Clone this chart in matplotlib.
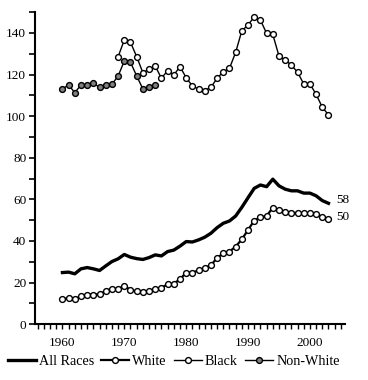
import numpy as np
import matplotlib.pyplot as plt
from matplotlib.ticker import MultipleLocator

plt.rcParams['font.family'] = ['Liberation Serif', 'DejaVu Serif']

# Datos
anios = list(range(1960, 2004))
todas = [24.8, 25.0, 24.2, 26.6, 27.2, 26.6, 25.8, 28.0, 30.1, 31.4,
         33.5, 32.2, 31.5, 31.1, 32.0, 33.3, 32.8, 34.9, 35.6, 37.5,
         39.7, 39.5, 40.5, 41.8, 43.7, 46.4, 48.5, 49.6, 52.0, 56.2,
         60.8, 65.3, 66.9, 66.1, 69.7, 66.5, 64.9, 64.1, 64.1, 63.0,
         63.0, 61.7, 59.4, 58.1]
blancos = [12.0, 12.6, 12.0, 13.5, 14.2, 14.2, 14.4, 15.9, 17.1, 17.0,
           18.3, 16.5, 15.7, 15.4, 15.9, 17.1, 17.4, 19.2, 19.5, 21.6,
           24.8, 24.8, 25.8, 26.9, 28.4, 31.8, 34.1, 34.9, 37.3, 40.8,
           45.3, 49.8, 51.4, 52.0, 56.0, 54.9, 54.1, 53.3, 53.6, 53.3,
           53.3, 52.8, 51.5, 50.6]

anios_negros = list(range(1969, 2004))
negros = [128.6, 136.6, 135.5, 128.6, 120.9, 122.5, 124.1, 118.2, 121.9, 119.8,
          123.8, 118.5, 114.5, 113.1, 112.3, 113.9, 118.2, 121.4, 123.0, 130.7,
          141.1, 143.8, 147.8, 146.2, 139.8, 139.3, 128.9, 127.0, 124.6, 121.1,
          115.5, 115.5, 110.5, 104.3, 100.6]

anios_no_blancos = list(range(1960, 1976))
no_blancos = [113.1, 115.0, 111.3, 115.0, 115.0, 115.8, 113.9, 115.0, 115.3, 119.3,
              126.5, 125.9, 119.3, 113.1, 113.9, 115.0]

fig = plt.figure(figsize=(3.68, 3.80), dpi=100)
ax = fig.add_axes([0.094, 0.147, 0.844, 0.821])

ax.plot(anios, todas, color='black', linewidth=2.4, label='All Races')
ax.plot(anios, blancos, color='black', linewidth=1.6, marker='o', markersize=4.2,
        markerfacecolor='white', markeredgecolor='black', markeredgewidth=1.0,
        label='White')
ax.plot(anios_negros, negros, color='black', linewidth=1.0, marker='o', markersize=4.2,
        markerfacecolor='white', markeredgecolor='black', markeredgewidth=1.0,
        label='Black')
ax.plot(anios_no_blancos, no_blancos, color='black', linewidth=1.0, marker='o',
        markersize=4.2, markerfacecolor='#808080', markeredgecolor='black',
        markeredgewidth=1.0, label='Non-White')

# Etiquetas al final de las series
ax.text(anios[-1] + 1.2, todas[-1] + 1.5, '58', fontsize=9.5, va='center', ha='left')
ax.text(anios[-1] + 1.2, blancos[-1] + 1.0, '50', fontsize=9.5, va='center', ha='left')

ax.set_xlim(1955.5, 2005.7)
ax.set_ylim(0, 150)
ax.xaxis.set_major_locator(MultipleLocator(10))
ax.xaxis.set_minor_locator(MultipleLocator(1))
ax.yaxis.set_major_locator(MultipleLocator(20))
ax.yaxis.set_minor_locator(MultipleLocator(10))
ax.tick_params(axis='x', which='both', length=3.5, width=1.0)
ax.tick_params(axis='x', which='major', pad=6, labelsize=9.5)
ax.tick_params(axis='y', which='both', length=4, width=1.2, labelsize=9.5, pad=2)

for lado in ['top', 'right']:
    ax.spines[lado].set_visible(False)
for lado in ['left', 'bottom']:
    ax.spines[lado].set_linewidth(1.5)

fig.legend(loc='center', bbox_to_anchor=(0.472, 0.048), ncol=4, frameon=False,
           fontsize=10.2, handlelength=2.0, handletextpad=0.2, columnspacing=0.5,
           borderaxespad=0)

plt.savefig('out.png', dpi=100)
